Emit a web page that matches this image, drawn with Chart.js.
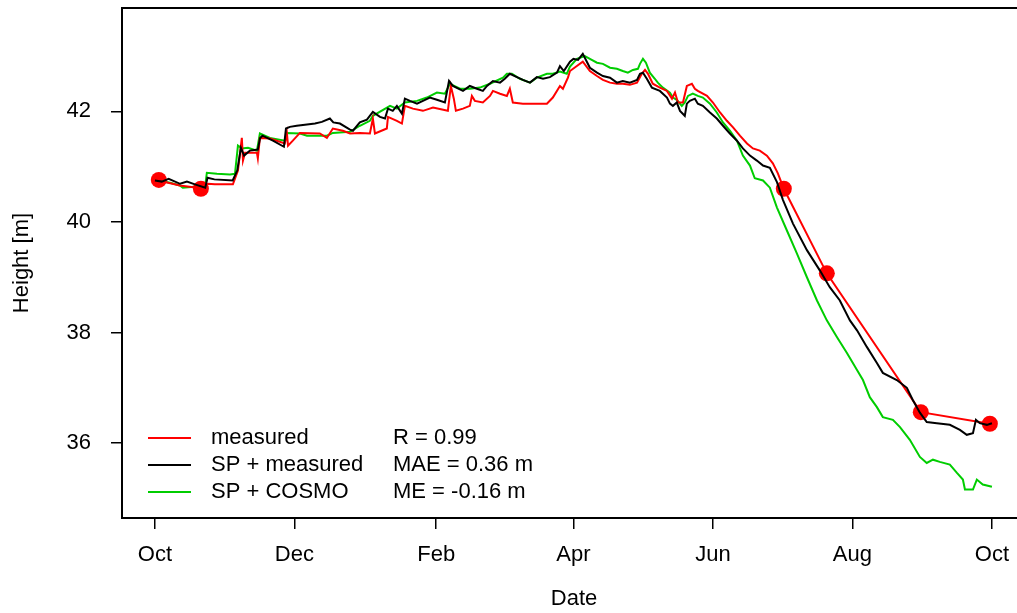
<!DOCTYPE html>
<html lang="en">

<head>
    <title>Height</title>
    <meta charset="utf-8">
    <script src="https://cdn.jsdelivr.net/npm/chart.js"></script>
    <style>
        html, body {
            margin: 0;
            padding: 0;
            background-color: #ffffff;
            overflow: hidden;
        }

        .chart-wrap {
            width: 1017px;
            height: 613px;
            overflow: hidden;
        }
    </style>
</head>

<body>
    <div class="chart-wrap">
        <canvas id="heightChart" width="1040" height="613"></canvas>
    </div>

    <script>
        // x values are days since 1 Oct
        const monthDays = [0, 61, 123, 183, 244, 305, 366];
        const monthLabels = ['Oct', 'Dec', 'Feb', 'Apr', 'Jun', 'Aug', 'Oct'];
        const heightTicks = [36, 38, 40, 42];

        // measured (continuous record, red)
        const measuredDays = [1.7, 3.5, 10.9, 18.4, 20.1, 23.2, 26.2, 34.1, 36.3, 37.2, 38, 38.5, 39.4, 44.6, 45, 45.9,
            50.3, 56.8, 57.7, 58.2, 60.3, 63.4, 72.1, 75.2, 77.8, 82.2, 85.3, 89.6, 94, 95.3, 96.2, 101.4, 101.9,
            105.8, 108, 109.3, 112.8, 117.2, 121.6, 128.1, 129.4, 130.7, 131.6, 134.7, 137.7, 138.6, 139.9, 143.4,
            146.5, 147.8, 150.9, 153.9, 155.2, 156.5, 160.9, 167, 171.4, 174, 177.1, 178.4, 180.6, 181.5, 184.5,
            187.1, 190.2, 193.3, 195.9, 199, 202, 204.6, 207.7, 210.8, 212.9, 214.3, 215.6, 217.7, 220.8, 223.9,
            226.1, 227.4, 228.7, 230.9, 232.6, 234.8, 236.1, 237.4, 241.4, 244, 247.1, 250.1, 252.8, 255.8, 258.9,
            261.5, 264.5, 267.6, 270.2, 272.4, 275];
        const measuredHeights = [40.77, 40.73, 40.66, 40.62, 40.6, 40.69, 40.68, 40.68, 40.93, 41.24, 41.52, 41.11,
            41.25, 41.25, 41.15, 41.52, 41.51, 41.42, 41.61, 41.38, 41.47, 41.61, 41.6, 41.52, 41.69, 41.65, 41.6,
            41.61, 41.6, 41.87, 41.6, 41.69, 41.9, 41.83, 41.78, 42.1, 42.05, 42.01, 42.07, 42.01, 42.46, 42.23,
            42.01, 42.05, 42.1, 42.28, 42.19, 42.16, 42.28, 42.37, 42.32, 42.28, 42.41, 42.16, 42.14, 42.14, 42.14,
            42.25, 42.46, 42.41, 42.61, 42.73, 42.82, 42.9, 42.73, 42.64, 42.57, 42.52, 42.5, 42.5, 42.48, 42.52,
            42.68, 42.75, 42.68, 42.5, 42.43, 42.37, 42.23, 42.34, 42.16, 42.16, 42.46, 42.5, 42.41, 42.37, 42.28,
            42.16, 41.98, 41.83, 41.71, 41.56, 41.42, 41.33, 41.29, 41.2, 41.06, 40.88, 40.6];

        // manual measurements (red dots)
        const probeDays = [1.7, 20.1, 275, 293.8, 334.9, 365.1];
        const probeHeights = [40.76, 40.6, 40.6, 39.07, 36.56, 36.35];

        // SP + measured (black)
        const spMeasuredDays = [0, 3, 6, 11, 14, 17.5, 22, 23, 26, 34, 36, 37.6, 39, 41.5, 45, 46, 47, 51.6, 56.4,
            57.3, 59, 62, 65.6, 70, 73, 76.5, 78, 80.9, 85.3, 86.6, 89.6, 92.7, 95.3, 98.4, 100.6, 101.9, 104, 105.8,
            108, 109.3, 111.5, 114.6, 117.2, 120.2, 123.3, 126.8, 128.6, 130.3, 134.7, 137.7, 140.8, 143.4, 145.2,
            147.8, 150.9, 153, 155.2, 158.3, 160.9, 164, 167, 169.7, 172.7, 175.8, 177.1, 178.8, 181.5, 183, 185,
            187.1, 190.2, 193.3, 195.9, 199, 202, 204.6, 207.7, 210.8, 212.1, 213.4, 215.1, 217.3, 220.8, 223.9,
            225.2, 226.5, 228.2, 229.6, 231.7, 232.6, 233.9, 236.1, 237.4, 239.6, 242.7, 245.7, 248.4, 251.4, 254.5,
            257.1, 260.2, 263.2, 265.9, 268.9, 272, 274.6, 279, 285.1, 290.8, 295.1, 299.5, 303.9, 307, 311.3,
            315.7, 318.3, 324.4, 328.8, 331.4, 334.5, 337.5, 341.9, 347.6, 352, 355, 357.7, 359, 360.7, 363.8, 366];
        const spMeasuredHeights = [40.75, 40.73, 40.78, 40.69, 40.73, 40.68, 40.62, 40.8, 40.77, 40.75, 40.93,
            41.34, 41.2, 41.29, 41.31, 41.52, 41.56, 41.47, 41.36, 41.69, 41.72, 41.74, 41.76, 41.78, 41.81, 41.87,
            41.8, 41.78, 41.67, 41.65, 41.8, 41.85, 41.99, 41.9, 41.87, 42.05, 42.01, 42.1, 41.96, 42.23, 42.19,
            42.14, 42.19, 42.25, 42.21, 42.16, 42.55, 42.46, 42.37, 42.46, 42.41, 42.37, 42.46, 42.55, 42.52, 42.59,
            42.68, 42.62, 42.57, 42.52, 42.62, 42.59, 42.62, 42.7, 42.82, 42.73, 42.9, 42.95, 42.93, 43.04, 42.79,
            42.7, 42.64, 42.61, 42.52, 42.55, 42.52, 42.57, 42.68, 42.7, 42.59, 42.43, 42.37, 42.25, 42.14, 42.1,
            42.16, 42.01, 41.92, 42.14, 42.19, 42.23, 42.14, 42.1, 41.98, 41.87, 41.74, 41.6, 41.47, 41.33, 41.2,
            41.11, 41.02, 40.98, 40.72, 40.4, 39.97, 39.49, 39.12, 38.82, 38.58, 38.22, 38.04, 37.74, 37.45, 37.27,
            37.14, 37.0, 36.78, 36.55, 36.38, 36.36, 36.33, 36.24, 36.15, 36.18, 36.42, 36.36, 36.33, 36.36];

        // SP + COSMO (green)
        const spCosmoDays = [1.7, 6.6, 10.9, 12.2, 18.4, 21.9, 22.7, 27.1, 32.8, 35, 36.3, 38, 40.7, 44.6, 45.9,
            50.3, 56.8, 57.7, 63.4, 66.5, 75.2, 77.8, 85.3, 89.6, 94, 95.3, 102.8, 105.8, 109.3, 114.6, 118.9,
            123.3, 126.8, 129, 133.4, 137.7, 142.1, 146.5, 152.2, 153.9, 156.1, 159.6, 164, 167, 171.4, 174, 177.1,
            180.1, 181.5, 184.5, 188, 190.2, 193.3, 195.9, 199, 202, 204.6, 206.8, 209, 211.2, 212.1, 213.4, 214.7,
            216.4, 218.6, 219.9, 222.1, 225.2, 226.5, 228.2, 230.4, 231.7, 233.1, 235.2, 237.4, 239.6, 242.7, 245.7,
            248.4, 251.4, 254.5, 257.1, 260.2, 262.3, 265.9, 268.9, 272, 276.3, 280.7, 285.1, 289.5, 293.8, 298.2,
            302.6, 307, 309.6, 312.6, 315.7, 318.3, 322.7, 325.8, 330.1, 334.5, 337.5, 340.2, 343.2, 347.6, 350.7,
            353.3, 354.2, 357.7, 359.4, 362, 366];
        const spCosmoHeights = [40.75, 40.71, 40.66, 40.62, 40.64, 40.62, 40.89, 40.87, 40.86, 40.87, 41.38,
            41.33, 41.34, 41.29, 41.6, 41.52, 41.47, 41.61, 41.6, 41.56, 41.56, 41.61, 41.63, 41.74, 41.83, 41.92,
            42.1, 42.05, 42.16, 42.19, 42.25, 42.34, 42.32, 42.5, 42.41, 42.41, 42.43, 42.5, 42.61, 42.68, 42.68,
            42.59, 42.52, 42.61, 42.68, 42.68, 42.72, 42.68, 42.81, 42.95, 43.0, 42.95, 42.88, 42.86, 42.79, 42.77,
            42.73, 42.7, 42.75, 42.77, 42.86, 42.95, 42.88, 42.7, 42.59, 42.52, 42.43, 42.34, 42.25, 42.21, 42.1,
            42.16, 42.28, 42.32, 42.28, 42.25, 42.14, 41.98, 41.8, 41.65, 41.47, 41.2, 41.02, 40.79, 40.75, 40.62,
            40.26, 39.85, 39.43, 39.0, 38.58, 38.22, 37.92, 37.63, 37.32, 37.14, 36.83, 36.65, 36.47, 36.42, 36.29,
            36.06, 35.75, 35.64, 35.7, 35.66, 35.61, 35.46, 35.34, 35.16, 35.16, 35.34, 35.25, 35.21];

        const statLines = ['R = 0.99', 'MAE = 0.36 m', 'ME = -0.16 m'];

        function toPoints(days, heights) {
            return days.map((d, i) => ({ x: d, y: heights[i] }));
        }

        // red line: continuous record, then straight lines between the last probes
        const measuredLine = toPoints(measuredDays, measuredHeights)
            .concat(toPoints(probeDays.slice(3), probeHeights.slice(3)));

        const RED = '#ff0000';
        const BLACK = '#000000';
        const GREEN = '#00cd00';
        const FONT = "'Liberation Sans', Arial, Helvetica, sans-serif";

        Chart.defaults.font.family = FONT;
        Chart.defaults.font.size = 22;
        Chart.defaults.color = '#000';

        // full frame around the plot region
        const boxPlugin = {
            id: 'box',
            afterDatasetsDraw(chart) {
                const a = chart.chartArea;
                const ctx = chart.ctx;
                ctx.save();
                ctx.strokeStyle = '#000';
                ctx.lineWidth = 2;
                ctx.strokeRect(a.left, a.top, a.right - a.left, a.bottom - a.top);
                ctx.restore();
            }
        };

        // legend with the statistics column, like the original
        const legendPlugin = {
            id: 'statLegend',
            afterDraw(chart) {
                const ctx = chart.ctx;
                const rows = [
                    { label: 'measured', color: RED },
                    { label: 'SP + measured', color: BLACK },
                    { label: 'SP + COSMO', color: GREEN }
                ];
                ctx.save();
                ctx.font = '22px ' + FONT;
                ctx.textBaseline = 'middle';
                ctx.textAlign = 'left';
                rows.forEach((r, i) => {
                    const y = 438 + i * 27;
                    ctx.strokeStyle = r.color;
                    ctx.lineWidth = 2;
                    ctx.beginPath();
                    ctx.moveTo(148, y);
                    ctx.lineTo(191, y);
                    ctx.stroke();
                    ctx.fillStyle = '#000';
                    ctx.fillText(r.label, 211, y);
                    ctx.fillText(statLines[i], 393, y);
                });
                ctx.restore();
            }
        };

        const ctx = document.getElementById('heightChart').getContext('2d');
        new Chart(ctx, {
            type: 'line',
            data: {
                datasets: [
                    {
                        label: 'SP + measured',
                        data: toPoints(spMeasuredDays, spMeasuredHeights),
                        borderColor: BLACK,
                        borderWidth: 2,
                        pointRadius: 0,
                        order: 1
                    },
                    {
                        label: 'probes',
                        data: toPoints(probeDays, probeHeights),
                        showLine: false,
                        pointRadius: 8,
                        pointBackgroundColor: RED,
                        pointBorderWidth: 0,
                        borderColor: RED,
                        order: 2
                    },
                    {
                        label: 'measured',
                        data: measuredLine,
                        borderColor: RED,
                        borderWidth: 2,
                        pointRadius: 0,
                        order: 3
                    },
                    {
                        label: 'SP + COSMO',
                        data: toPoints(spCosmoDays, spCosmoHeights),
                        borderColor: GREEN,
                        borderWidth: 2,
                        pointRadius: 0,
                        order: 4
                    }
                ]
            },
            options: {
                responsive: false,
                animation: false,
                devicePixelRatio: 1,
                layout: { padding: { top: 7, right: 14, bottom: 0, left: 0 } },
                plugins: {
                    legend: { display: false },
                    tooltip: { enabled: false }
                },
                elements: { line: { tension: 0 } },
                scales: {
                    x: {
                        type: 'linear',
                        min: -14.4,
                        max: 380.9,
                        grid: { drawOnChartArea: false, drawTicks: true, tickLength: 11, color: '#000', lineWidth: 1.5 },
                        border: { display: false },
                        afterBuildTicks: (scale) => {
                            scale.ticks = monthDays.map(v => ({ value: v }));
                        },
                        afterFit: (scale) => {
                            scale.height = 95;
                            scale.paddingLeft = 0;
                            scale.paddingRight = 0;
                        },
                        ticks: {
                            autoSkip: false,
                            maxRotation: 0,
                            padding: 13,
                            callback: (value, index) => monthLabels[index]
                        },
                        title: { display: true, text: 'Date', padding: { top: 0, bottom: 1 } }
                    },
                    y: {
                        min: 34.645,
                        max: 43.87,
                        grid: { drawOnChartArea: false, drawTicks: true, tickLength: 11, color: '#000', lineWidth: 1.5 },
                        border: { display: false },
                        afterBuildTicks: (scale) => {
                            scale.ticks = heightTicks.map(v => ({ value: v }));
                        },
                        afterFit: (scale) => {
                            scale.width = 122;
                            scale.paddingTop = 0;
                            scale.paddingBottom = 0;
                        },
                        ticks: { padding: 20 },
                        title: { display: true, text: 'Height [m]', padding: { top: 9, bottom: 0 } }
                    }
                }
            },
            plugins: [boxPlugin, legendPlugin]
        });
    </script>
</body>

</html>
